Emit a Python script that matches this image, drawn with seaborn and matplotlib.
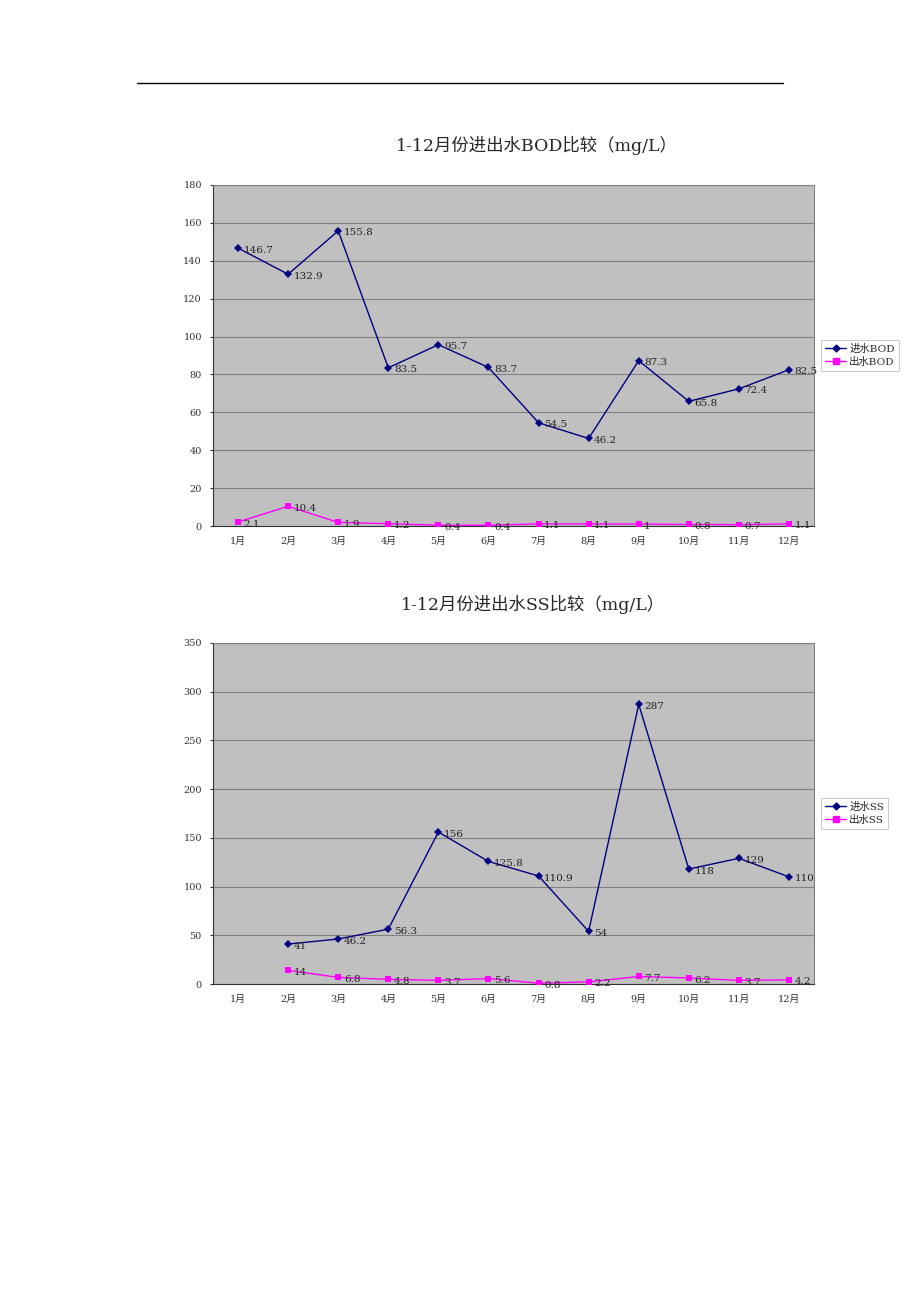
import numpy as np
import pandas as pd
import matplotlib
matplotlib.use('Agg')
import matplotlib.pyplot as plt
from matplotlib.lines import Line2D
import seaborn as sns

# 数据
months = ['1月', '2月', '3月', '4月', '5月', '6月', '7月', '8月', '9月', '10月', '11月', '12月']
bod_in = [146.7, 132.9, 155.8, 83.5, 95.7, 83.7, 54.5, 46.2, 87.3, 65.8, 72.4, 82.5]
bod_out = [2.1, 10.4, 1.9, 1.2, 0.4, 0.4, 1.1, 1.1, 1, 0.8, 0.7, 1.1]
ss_in = [np.nan, 41, 46.2, 56.3, 156, 125.8, 110.9, 54, 287, 118, 129, 110]
ss_out = [np.nan, 14, 6.8, 4.8, 3.7, 5.6, 0.8, 2.2, 7.7, 6.2, 3.7, 4.2]

sns.set_style('white')
plt.rcParams['font.family'] = ['DejaVu Serif', 'Noto Sans CJK SC', 'DejaVu Sans']

NAVY = '#000080'
MAGENTA = '#FF00FF'


def fmt(v):
    return f'{v:g}'


def draw(ax, in_vals, out_vals, in_name, out_name, ymax, step):
    df = pd.DataFrame({
        '月份': months * 2,
        'x': list(range(12)) * 2,
        '值': list(in_vals) + list(out_vals),
        '系列': [in_name] * 12 + [out_name] * 12,
    })
    ax.set_facecolor('#C0C0C0')
    sns.lineplot(data=df[df['系列'] == in_name], x='x', y='值', color=NAVY,
                 marker='D', markersize=3.8, markeredgewidth=0, linewidth=1,
                 ax=ax, zorder=3)
    sns.lineplot(data=df[df['系列'] == out_name], x='x', y='值', color=MAGENTA,
                 marker='s', markersize=4.5, markeredgewidth=0, linewidth=1,
                 ax=ax, zorder=3)
    # 数据标签
    for vals in (in_vals, out_vals):
        for i, v in enumerate(vals):
            if np.isnan(v):
                continue
            ax.annotate(fmt(v), (i, v), xytext=(4, -1.5), textcoords='offset points',
                        ha='left', va='center', fontsize=7.5, color='#222222',
                        zorder=4, annotation_clip=False)
    ax.set_xlim(-0.5, 11.5)
    ax.set_ylim(0, ymax)
    ax.set_yticks(np.arange(0, ymax + 1, step))
    ax.set_xticks(range(12))
    ax.set_xticklabels(months)
    ax.set_xlabel('')
    ax.set_ylabel('')
    ax.yaxis.grid(True, color='#808080', linewidth=0.8)
    ax.set_axisbelow(True)
    for s in ax.spines.values():
        s.set_color('#808080')
        s.set_linewidth(0.8)
    ax.spines['left'].set_color('#333333')
    ax.spines['bottom'].set_color('#333333')
    ax.tick_params(axis='both', labelsize=7, length=2, colors='#333333',
                   direction='out', left=True, bottom=False, pad=6)
    handles = [
        Line2D([], [], color=NAVY, marker='D', markersize=3.5, lw=1, label=in_name),
        Line2D([], [], color=MAGENTA, marker='s', markersize=4, lw=1, label=out_name),
    ]
    leg = ax.legend(handles=handles, loc='center left', bbox_to_anchor=(1.012, 0.5),
                    fontsize=7.5, frameon=True, fancybox=False, handlelength=2,
                    handletextpad=0.3, borderpad=0.4, labelspacing=0.3, borderaxespad=0)
    leg.get_frame().set_edgecolor('#B0B0B0')
    leg.get_frame().set_linewidth(0.6)


fig = plt.figure(figsize=(9.2, 13.02), dpi=100)
fig.add_artist(Line2D([137 / 920, 783 / 920], [1 - 83 / 1302, 1 - 83 / 1302],
                      color='black', lw=1))

ax1 = fig.add_axes([213 / 920, 1 - 526 / 1302, 601 / 920, 341 / 1302])
draw(ax1, bod_in, bod_out, '进水BOD', '出水BOD', 180, 20)
fig.text(537 / 920, 1 - 145 / 1302, '1-12月份进出水BOD比较（mg/L）',
         ha='center', va='center', fontsize=12.5)

ax2 = fig.add_axes([213 / 920, 1 - 984 / 1302, 601 / 920, 341 / 1302])
draw(ax2, ss_in, ss_out, '进水SS', '出水SS', 350, 50)
fig.text(533 / 920, 1 - 604 / 1302, '1-12月份进出水SS比较（mg/L）',
         ha='center', va='center', fontsize=12.5)

fig.savefig('out.png', dpi=100, facecolor='white')
